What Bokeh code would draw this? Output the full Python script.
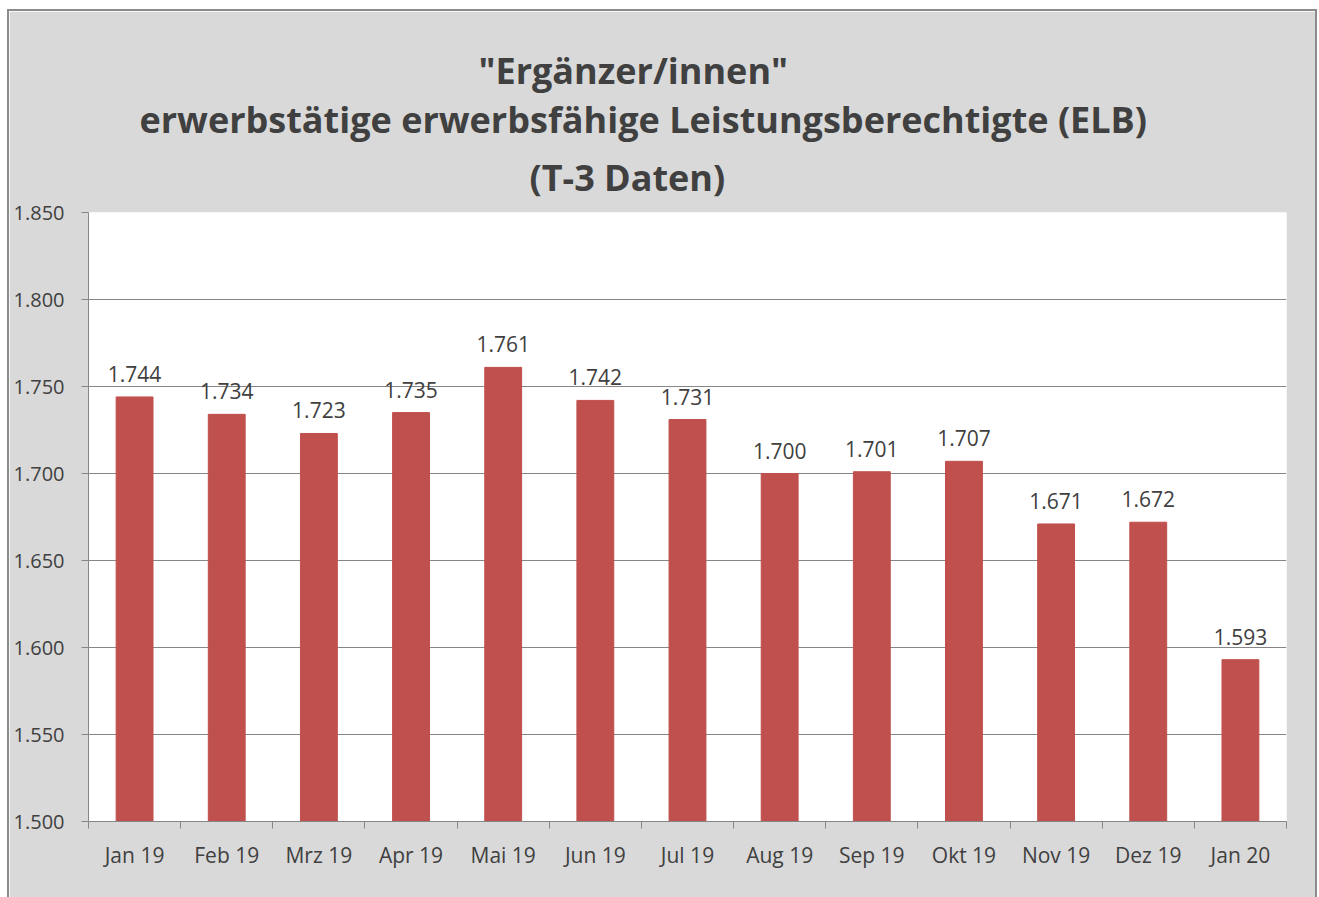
import numpy as np
from bokeh.plotting import figure
from bokeh.models import FixedTicker, Range1d, Title, ColumnDataSource, LabelSet
from bokeh.core.properties import value
from bokeh.embed import file_html
from bokeh.resources import INLINE

months = ["Jan 19", "Feb 19", "Mrz 19", "Apr 19", "Mai 19", "Jun 19", "Jul 19",
          "Aug 19", "Sep 19", "Okt 19", "Nov 19", "Dez 19", "Jan 20"]
elb = [1.744, 1.734, 1.723, 1.735, 1.761, 1.742, 1.731,
       1.700, 1.701, 1.707, 1.671, 1.672, 1.593]
y_ticks = [1.500, 1.550, 1.600, 1.650, 1.700, 1.750, 1.800, 1.850]
title_lines = ['"Ergänzer/innen"',
               "erwerbstätige erwerbsfähige Leistungsberechtigte (ELB)",
               "(T-3 Daten)"]
title_offsets = [390, 51, 441]

FONT = "Open Sans"
TXT = "#404040"
GRID = "#868686"
BAR = "#c0504d"
BG = "#d9d9d9"

n = len(months)
centers = list(np.arange(n) + 0.5)
bounds = list(np.arange(n + 1).astype(float))

src = ColumnDataSource(dict(x=centers, top=elb, lbl=[f"{v:.3f}" for v in elb]))

p = figure(width=1310, height=888, output_backend="svg", toolbar_location=None,
           x_range=Range1d(0, n), y_range=Range1d(y_ticks[0], y_ticks[-1]),
           min_border_left=79, min_border_right=33, min_border_bottom=78,
           min_border_top=201)
p.styles = {"border": "2px solid #8c8c8c", "border-bottom": "none",
            "margin-left": "7px", "margin-top": "9px"}
p.border_fill_color = BG
p.background_fill_color = "white"
p.outline_line_color = None

standoffs = [2, -6, 21]
for t, off, so in reversed(list(zip(title_lines, title_offsets, standoffs))):
    p.add_layout(Title(text=t, align="left", offset=off,
                       text_font=FONT, text_font_size="36px",
                       text_font_style="bold", text_color=TXT,
                       standoff=so), "above")

p.vbar(x="x", top="top", bottom=y_ticks[0], width=0.40, source=src,
       fill_color=BAR, line_color=BAR)

p.add_layout(LabelSet(x="x", y="top", text="lbl", source=src,
                      text_align="center", text_baseline="bottom", y_offset=15,
                      text_font=value(FONT), text_font_size="21px",
                      text_color=TXT))

# x axis
xa = p.xaxis[0]
xa.ticker = FixedTicker(ticks=centers, minor_ticks=bounds)
xa.major_label_overrides = {c: m for c, m in zip(centers, months)}
xa.major_tick_out = 0
xa.major_tick_in = 0
xa.minor_tick_out = 7
xa.minor_tick_in = 0
xa.minor_tick_line_color = GRID
xa.axis_line_color = GRID
xa.major_label_standoff = 12
xa.major_label_text_font = FONT
xa.major_label_text_font_size = "21px"
xa.major_label_text_color = TXT

# y axis
ya = p.yaxis[0]
ya.ticker = FixedTicker(ticks=y_ticks, minor_ticks=[])
ya.major_label_overrides = {v: f"{v:.3f}" for v in y_ticks}
ya.major_tick_out = 7
ya.major_tick_in = 0
ya.major_tick_line_color = GRID
ya.axis_line_color = GRID
ya.major_label_standoff = 17
ya.major_label_text_font = FONT
ya.major_label_text_font_size = "20px"
ya.major_label_text_color = TXT

p.xgrid.grid_line_color = None
p.ygrid.grid_line_color = GRID
p.ygrid.grid_line_width = 1

open("out.html", "w").write(file_html(p, INLINE))
